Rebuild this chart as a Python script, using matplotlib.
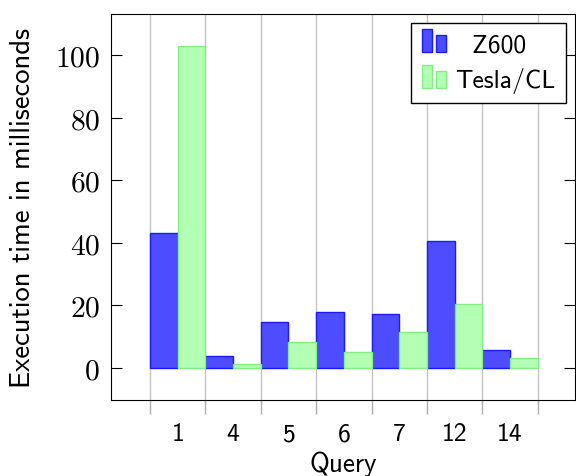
import matplotlib
matplotlib.use("Agg")
import matplotlib.pyplot as plt
import numpy as np
from matplotlib.patches import Rectangle
from matplotlib.legend_handler import HandlerBase

queries = ["1", "4", "5", "6", "7", "12", "14"]
z600 = [43.1, 3.9, 14.8, 18.0, 17.2, 40.5, 5.8]
tesla = [103.0, 1.2, 8.2, 5.0, 11.5, 20.5, 3.2]

blue_fc = "#4d4dff"
blue_ec = "#1a1aff"
green_fc = "#b3ffb3"
green_ec = "#80f080"


class TwoBarHandler(HandlerBase):
    # pgfplots-style legend image: two small bars of different height
    def create_artists(self, legend, orig_handle, xdescent, ydescent,
                       width, height, fontsize, trans):
        fc = orig_handle.get_facecolor()
        ec = orig_handle.get_edgecolor()
        w = width * 0.42
        x0 = -xdescent
        y0 = -ydescent - height * 0.05
        r1 = Rectangle((x0, y0), w, height * 1.28, facecolor=fc, edgecolor=ec,
                       linewidth=1, transform=trans)
        r2 = Rectangle((x0 + width - w, y0), w, height * 0.95, facecolor=fc,
                       edgecolor=ec, linewidth=1, transform=trans)
        return [r1, r2]


plt.rcParams["font.family"] = "cmss10"
plt.rcParams["axes.formatter.use_mathtext"] = True

fig = plt.figure(figsize=(5.76, 4.77), dpi=100)
ax = fig.add_axes([0.193, 0.159, 0.805, 0.81])

x = np.arange(len(queries))
b1 = ax.bar(x - 0.25, z600, width=0.5, color=blue_fc, edgecolor=blue_ec,
            linewidth=1, label="Z600", zorder=3)
b2 = ax.bar(x + 0.25, tesla, width=0.5, color=green_fc, edgecolor=green_ec,
            linewidth=1, label="Tesla/CL", zorder=3)

ax.set_xlim(-1.2, 7.17)
ax.set_ylim(-10.3, 113.3)

ax.set_xticks(np.arange(len(queries) + 1) - 0.5)
ax.set_xticklabels([])
ax.set_xticks(x, minor=True)
ax.set_xticklabels(queries, minor=True, fontsize=18.5)
ax.tick_params(axis="x", which="minor", length=0, pad=16)
ax.tick_params(axis="x", which="major", direction="out", length=10,
               color="#b0b0b0", width=1)
ax.grid(axis="x", which="major", color="#c4c4c4", linewidth=1, zorder=0)

ax.set_yticks([0, 20, 40, 60, 80, 100])
ax.tick_params(axis="y", direction="in", length=8, right=True, labelsize=21.3,
               pad=8)
for lbl in ax.get_yticklabels():
    lbl.set_fontfamily("cmr10")

ax.set_xlabel("Query", fontsize=19.5, labelpad=3.8)
ax.set_ylabel("Execution time in milliseconds", fontsize=20.6)
ax.yaxis.set_label_coords(-0.165, 0.5)

h1, h2 = b1.patches[0], b2.patches[0]
leg = ax.legend(handles=[h1, h2], labels=["  Z600", "Tesla/CL"],
                handler_map={h1: TwoBarHandler(), h2: TwoBarHandler()},
                loc="upper right", fontsize=18.5, fancybox=False,
                edgecolor="black", framealpha=1, borderpad=0.4,
                handlelength=0.95, handletextpad=0.35, labelspacing=0.42,
                borderaxespad=0.36)
leg.get_frame().set_linewidth(1)

fig.savefig("out.png", dpi=100)
